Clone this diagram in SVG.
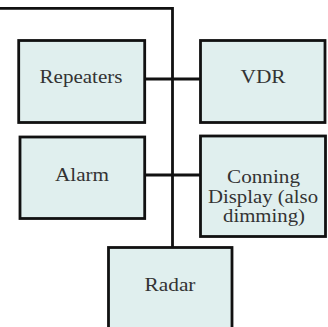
<svg xmlns="http://www.w3.org/2000/svg" width="328" height="327" viewBox="0 0 328 327">
<style>
.box{fill:#e0efee;stroke:#111;stroke-width:2.8}
.lbl{font-family:"Liberation Serif","Times New Roman",serif;font-size:18.5px;fill:#333;text-anchor:middle}
.wire{fill:none;stroke:#111;stroke-width:2.8}
</style>
<rect width="328" height="327" fill="#fff"/>
<g id="connectors">
<path class="wire" d="M0,8.3 H172.5 V247"/>
<path class="wire" d="M145,79 H200"/>
<path class="wire" d="M146,175 H200"/>
</g>
<g id="repeaters">
<rect class="box" x="18.7" y="40.5" width="126" height="82"/>
<text class="lbl" x="81" y="83" textLength="83" lengthAdjust="spacingAndGlyphs">Repeaters</text>
</g>
<g id="vdr">
<rect class="box" x="200.5" y="40.5" width="124.5" height="82"/>
<text class="lbl" x="263" y="83" textLength="45" lengthAdjust="spacingAndGlyphs">VDR</text>
</g>
<g id="alarm">
<rect class="box" x="20" y="137" width="124.7" height="81.5"/>
<text class="lbl" x="82" y="181" textLength="54" lengthAdjust="spacingAndGlyphs">Alarm</text>
</g>
<g id="conning">
<rect class="box" x="200.5" y="136" width="125" height="100.5"/>
<text class="lbl" x="263.5" y="183" textLength="73" lengthAdjust="spacingAndGlyphs">Conning</text>
<text class="lbl" x="263" y="202.5" textLength="110" lengthAdjust="spacingAndGlyphs">Display (also</text>
<text class="lbl" x="264" y="222" textLength="82" lengthAdjust="spacingAndGlyphs">dimming)</text>
</g>
<g id="radar">
<rect class="box" x="108.5" y="247.5" width="123.5" height="100"/>
<text class="lbl" x="170" y="290.5" textLength="51" lengthAdjust="spacingAndGlyphs">Radar</text>
</g>
</svg>
